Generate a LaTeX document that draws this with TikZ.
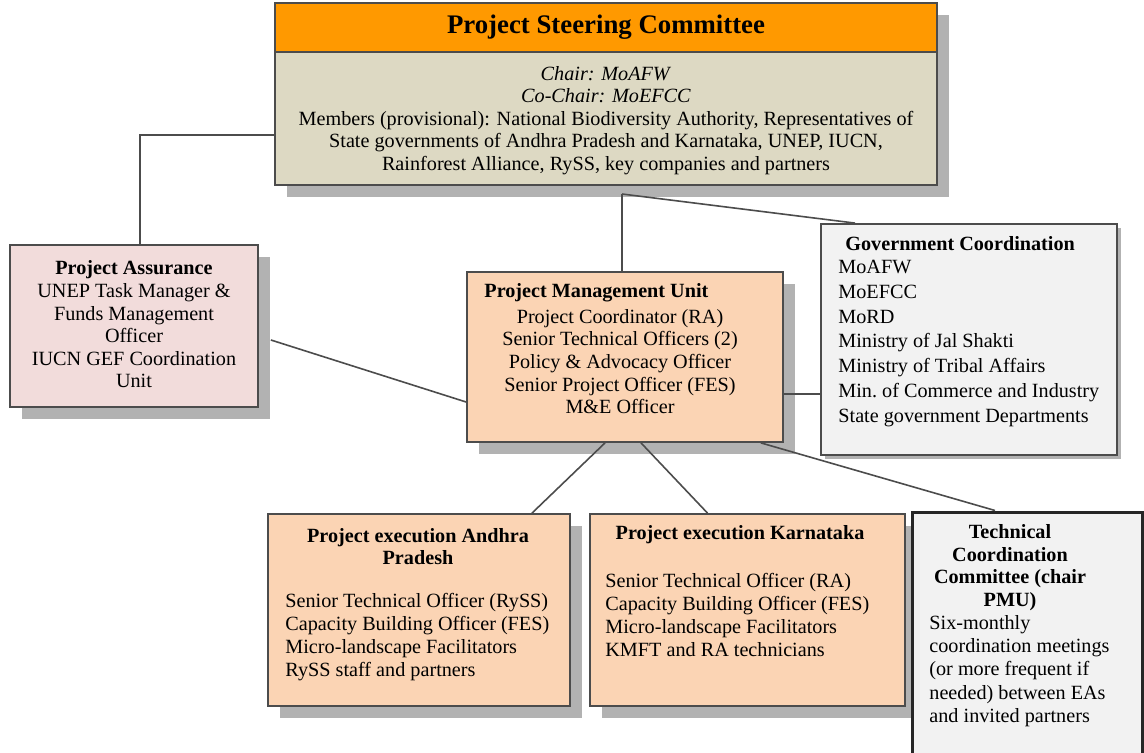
\documentclass[tikz,border=0pt]{standalone}
\usepackage{fontspec}
\setmainfont{Liberation Serif}
\usetikzlibrary{positioning,fit,shadows}
\definecolor{hdrorange}{HTML}{FF9900}
\definecolor{tanfill}{HTML}{DDD9C3}
\definecolor{pinkfill}{HTML}{F2DCDB}
\definecolor{peachfill}{HTML}{FBD4B4}
\definecolor{greyfill}{HTML}{F2F2F2}

\begin{document}
\begin{tikzpicture}[x=0.5pt,y=-0.5pt,
        box/.style={draw=black!70, line width=0.9pt, inner sep=0pt},
        shade/.style={drop shadow={shadow xshift=6pt, shadow yshift=-6pt, fill=black!30, opacity=1}},
        txt/.style={inner sep=0pt, font=\fontsize{10.1}{11.3}\selectfont},
        conn/.style={draw=black!70, line width=0.8pt}
    ]
        \useasboundingbox (0,0) rectangle (1144,753);

        % boxes
        \node[box, shade, fill=tanfill, fit={(275,3) (937,185)}] (psc) {};
        \node[box, fill=hdrorange, fit={(275,3) (937,52)}] (psch) {};
        \node[box, shade, fill=pinkfill, fit={(10,245) (258,407)}] (pa) {};
        \node[box, shade, fill=peachfill, fit={(467,272) (783,442)}] (pmu) {};
        \node[box, fill=greyfill, drop shadow={shadow xshift=2pt, shadow yshift=-2pt, fill=black!30, opacity=1}, fit={(821,224) (1117,455)}] (gc) {};
        \node[box, shade, fill=peachfill, fit={(268,514) (570,706)}] (pea) {};
        \node[box, shade, fill=peachfill, fit={(590,514) (905,706)}] (pek) {};
        \node[box, line width=1.5pt, draw=black!85, fill=greyfill, fit={(912,512) (1142,765)}] (tcc) {};

        % texts
        \node[txt, font=\bfseries\fontsize{13.4}{15}\selectfont] (psct) at (psch.center) {Project Steering Committee};
        \node[txt, align=center] (pscb) at (606,120.5) {\textit{Chair: MoAFW}\\ \textit{Co-Chair: MoEFCC}\\ Members (provisional): National Biodiversity Authority, Representatives of\\ State governments of Andhra Pradesh and Karnataka, UNEP, IUCN,\\ Rainforest Alliance, RySS, key companies and partners};
        \node[txt, align=center] (pab) at (134,324.5) {\textbf{Project Assurance}\\ UNEP Task Manager \&\\ Funds Management\\ Officer\\ IUCN GEF Coordination\\ Unit};
        \node[txt, anchor=west] (pmuh) at (484,293) {\textbf{Project Management Unit}};
        \node[txt, align=center] (pmub) at (620,361.5) {Project Coordinator (RA)\\ Senior Technical Officers (2)\\ Policy \& Advocacy Officer\\ Senior Project Officer (FES)\\ M\&E Officer};
        \node[txt, anchor=west] (gch) at (845,244) {\textbf{Government Coordination}};
        \node[txt, align=left, anchor=west, font=\fontsize{10.1}{12.4}\selectfont] (gcb) at (838,343.5) {MoAFW\\ MoEFCC\\ MoRD\\ Ministry of Jal Shakti\\ Ministry of Tribal Affairs\\ Min.\ of Commerce and Industry\\ State government Departments};
        \node[txt, align=center] (peah) at (418,546.5) {\textbf{Project execution Andhra}\\ \textbf{Pradesh}};
        \node[txt, align=left, anchor=west, font=\fontsize{10.1}{11.5}\selectfont] (peab) at (285,637.5) {Senior Technical Officer (RySS)\\ Capacity Building Officer (FES)\\ Micro-landscape Facilitators\\ RySS staff and partners};
        \node[txt] (pekh) at (740,535) {\textbf{Project execution Karnataka}};
        \node[txt, align=left, anchor=west, font=\fontsize{10.1}{11.5}\selectfont] (pekb) at (605,615) {Senior Technical Officer (RA)\\ Capacity Building Officer (FES)\\ Micro-landscape Facilitators\\ KMFT and RA technicians};
        \node[txt, align=center] (tcch) at (1010,567.5) {\textbf{Technical}\\ \textbf{Coordination}\\ \textbf{Committee (chair}\\ \textbf{PMU)}};
        \node[txt, align=left, anchor=west, font=\fontsize{10.1}{11.7}\selectfont] (tccb) at (929,671) {Six-monthly\\ coordination meetings\\ (or more frequent if\\ needed) between EAs\\ and invited partners};

        % connectors
        \coordinate (k1) at (140,135);
        \coordinate (k2) at (622,194);
        \coordinate (k3) at (800,394);
        \draw[conn] (psc.west |- k1) -- (k1) -- (k1 |- pa.north);
        \draw[conn] ([xshift=6pt,yshift=-7pt]pa.east) -- ([yshift=-22.5pt]pmu.west);
        \draw[conn] (k2) -- (k2 |- pmu.north);
        \draw[conn] (k2) -- ([xshift=-57pt]gc.north);
        \draw[conn] (pmu.east |- k3) -- (gc.west |- k3);
        \draw[conn] ([xshift=-10pt]pmu.south) -- ([xshift=56.5pt]pea.north);
        \draw[conn] ([xshift=8pt]pmu.south) -- ([xshift=-20pt]pek.north);
        \draw[conn] ([xshift=-11.5pt]pmu.south east) -- ([xshift=-16pt]tcc.north);
\end{tikzpicture}
\end{document}
